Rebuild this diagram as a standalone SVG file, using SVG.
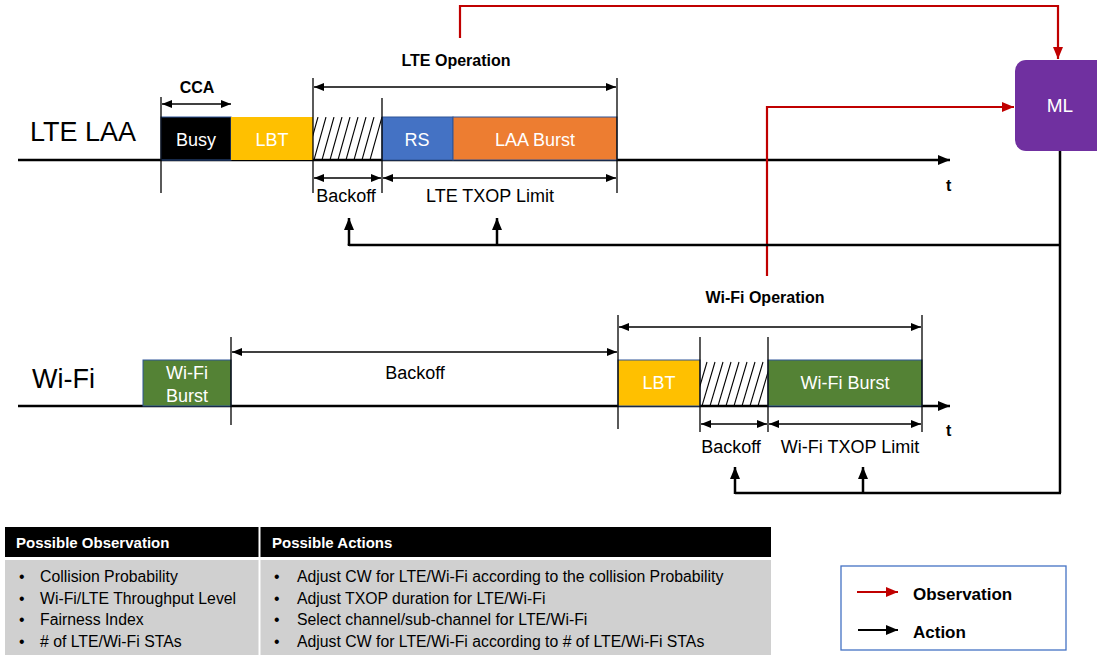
<svg xmlns="http://www.w3.org/2000/svg" width="1097" height="655" viewBox="0 0 1097 655">
  <style>
    text { font-family: "Liberation Sans", "Open Sans", sans-serif; fill: #000; }
    .big { font-size: 27px; }
    .lbl { font-size: 18px; }
    .hdr { font-size: 16px; font-weight: bold; }
    .box { font-size: 18px; fill: #fff; text-anchor: middle; }
    .mid { text-anchor: middle; }
    .axis { stroke: #000; stroke-width: 2.5; fill: none; }
    .tick { stroke: #000; stroke-width: 1.3; fill: none; }
    .dim { stroke: #000; stroke-width: 1.3; fill: none; marker-start: url(#ahs); marker-end: url(#ahe); }
    .hatch line { stroke: #000; stroke-width: 1.1; }
    .obs { stroke: #c00000; stroke-width: 2.2; fill: none; marker-end: url(#red); }
    .act { stroke: #000; stroke-width: 2.5; fill: none; }
    .up { stroke: #000; stroke-width: 2.5; fill: none; marker-end: url(#blk); }
    .cell { font-size: 15.8px; }
    .th { font-size: 15px; font-weight: bold; fill: #fff; }
  </style>
  <defs>
    <marker id="ahe" markerWidth="10" markerHeight="8" refX="10" refY="4" orient="auto" markerUnits="userSpaceOnUse">
      <path d="M0,0 L10,4 L0,8 Z" fill="#000"/>
    </marker>
    <marker id="ahs" markerWidth="10" markerHeight="8" refX="0" refY="4" orient="auto" markerUnits="userSpaceOnUse">
      <path d="M10,0 L0,4 L10,8 Z" fill="#000"/>
    </marker>
    <marker id="red" markerWidth="12" markerHeight="10" refX="12" refY="5" orient="auto" markerUnits="userSpaceOnUse">
      <path d="M0,0 L12,5 L0,10 Z" fill="#c00000"/>
    </marker>
    <marker id="blk" markerWidth="12" markerHeight="10" refX="12" refY="5" orient="auto" markerUnits="userSpaceOnUse">
      <path d="M0,0 L12,5 L0,10 Z" fill="#000"/>
    </marker>
    <marker id="tax" markerWidth="12" markerHeight="10" refX="12" refY="5" orient="auto" markerUnits="userSpaceOnUse">
      <path d="M0,0 L12,5 L0,10 Z" fill="#000"/>
    </marker>
    <clipPath id="hcl1"><rect x="313" y="117" width="69" height="43"/></clipPath>
    <clipPath id="hcl2"><rect x="700" y="360" width="68" height="46"/></clipPath>
  </defs>

  <!-- LTE LAA timeline -->
  <g id="lte-row">
    <text class="big" x="30" y="141">LTE LAA</text>
    <line class="axis" x1="18" y1="160" x2="950" y2="160" marker-end="url(#tax)"/>
    <text x="946" y="191" style="font-size:16px;font-weight:bold">t</text>
  </g>
  <g id="lte-busy">
    <rect x="161" y="117" width="70" height="43" fill="#000" stroke="#2f5597" stroke-width="1"/>
    <text class="box" x="196" y="146">Busy</text>
  </g>
  <g id="lte-lbt">
    <rect x="231" y="117" width="82" height="43" fill="#ffc000"/>
    <text class="box" x="272" y="146">LBT</text>
  </g>
  <g id="lte-backoff" class="hatch" clip-path="url(#hcl1)">
    <line x1="306" y1="160" x2="318" y2="117"/>
    <line x1="314" y1="160" x2="326" y2="117"/>
    <line x1="322" y1="160" x2="334" y2="117"/>
    <line x1="330" y1="160" x2="342" y2="117"/>
    <line x1="338" y1="160" x2="350" y2="117"/>
    <line x1="346" y1="160" x2="358" y2="117"/>
    <line x1="354" y1="160" x2="366" y2="117"/>
    <line x1="362" y1="160" x2="374" y2="117"/>
    <line x1="370" y1="160" x2="382" y2="117"/>
  </g>
  <g id="lte-rs">
    <rect x="382" y="117" width="71" height="43" fill="#4472c4" stroke="#2f5597" stroke-width="1"/>
    <text class="box" x="417" y="146">RS</text>
  </g>
  <g id="lte-burst">
    <rect x="453" y="117" width="164" height="43" fill="#ed7d31" stroke="#2f5597" stroke-width="1"/>
    <text class="box" x="535" y="146">LAA Burst</text>
  </g>
  <g id="lte-dims">
    <line class="tick" x1="161" y1="97" x2="161" y2="193"/>
    <line class="tick" x1="313" y1="78" x2="313" y2="193"/>
    <line class="tick" x1="382" y1="98" x2="382" y2="193"/>
    <line class="tick" x1="617" y1="78" x2="617" y2="193"/>
    <line class="dim" x1="162" y1="104" x2="231" y2="104"/>
    <text class="hdr mid" x="197" y="93">CCA</text>
    <line class="dim" x1="314" y1="87" x2="616" y2="87"/>
    <text class="hdr mid" x="456" y="66">LTE Operation</text>
    <line class="dim" x1="314" y1="178" x2="381" y2="178"/>
    <text class="lbl mid" x="346" y="202">Backoff</text>
    <line class="dim" x1="383" y1="178" x2="616" y2="178"/>
    <text class="lbl mid" x="490" y="202">LTE TXOP Limit</text>
  </g>

  <!-- Wi-Fi timeline -->
  <g id="wifi-row">
    <text class="big" x="32" y="388">Wi-Fi</text>
    <line class="axis" x1="18" y1="406" x2="950" y2="406" marker-end="url(#tax)"/>
    <text x="946" y="436" style="font-size:16px;font-weight:bold">t</text>
  </g>
  <g id="wifi-burst1">
    <rect x="143" y="360" width="88" height="46" fill="#548235" stroke="#2f5597" stroke-width="1"/>
    <text class="box" x="187" y="379">Wi-Fi</text>
    <text class="box" x="187" y="402">Burst</text>
  </g>
  <g id="wifi-lbt">
    <rect x="618" y="360" width="82" height="46" fill="#ffc000" stroke="#2f5597" stroke-width="1"/>
    <text class="box" x="659" y="389">LBT</text>
  </g>
  <g id="wifi-backoff" class="hatch" clip-path="url(#hcl2)">
    <line x1="694" y1="406" x2="707" y2="362"/>
    <line x1="702" y1="406" x2="715" y2="362"/>
    <line x1="710" y1="406" x2="723" y2="362"/>
    <line x1="718" y1="406" x2="731" y2="362"/>
    <line x1="726" y1="406" x2="739" y2="362"/>
    <line x1="734" y1="406" x2="747" y2="362"/>
    <line x1="742" y1="406" x2="755" y2="362"/>
    <line x1="750" y1="406" x2="763" y2="362"/>
    <line x1="758" y1="406" x2="771" y2="362"/>
  </g>
  <g id="wifi-burst2">
    <rect x="768" y="360" width="154" height="46" fill="#548235" stroke="#2f5597" stroke-width="1"/>
    <text class="box" x="845" y="389">Wi-Fi Burst</text>
  </g>
  <g id="wifi-dims">
    <line class="tick" x1="231" y1="337" x2="231" y2="425"/>
    <line class="dim" x1="232" y1="352" x2="617" y2="352"/>
    <text class="lbl mid" x="415" y="379">Backoff</text>
    <line class="tick" x1="618" y1="315" x2="618" y2="429"/>
    <line class="tick" x1="700" y1="337" x2="700" y2="432"/>
    <line class="tick" x1="768" y1="337" x2="768" y2="432"/>
    <line class="tick" x1="922" y1="315" x2="922" y2="432"/>
    <line class="dim" x1="619" y1="327" x2="921" y2="327"/>
    <text class="hdr mid" x="765" y="303">Wi-Fi Operation</text>
    <line class="dim" x1="701" y1="424" x2="767" y2="424"/>
    <text class="lbl mid" x="731" y="453">Backoff</text>
    <line class="dim" x1="769" y1="424" x2="921" y2="424"/>
    <text class="lbl mid" x="850" y="453">Wi-Fi TXOP Limit</text>
  </g>

  <!-- ML agent -->
  <g id="ml">
    <rect x="1015" y="60" width="92" height="91" rx="11" fill="#7030a0"/>
    <text x="1060" y="112" style="font-size:19px;fill:#fff;text-anchor:middle">ML</text>
  </g>

  <!-- observation and action connectors -->
  <g id="connectors">
    <path class="obs" d="M460,38 V6 H1058 V59"/>
    <path class="obs" d="M767,276 V107 H1014"/>
    <path class="act" d="M1060,151 V493"/>
    <path class="act" d="M1061,245 H349 V246"/>
    <line class="up" x1="349" y1="245" x2="349" y2="218"/>
    <line class="up" x1="497" y1="245" x2="497" y2="218"/>
    <path class="act" d="M1061,493 H735"/>
    <line class="up" x1="735" y1="494" x2="735" y2="467"/>
    <line class="up" x1="863" y1="494" x2="863" y2="467"/>
  </g>

  <!-- observation / action table -->
  <g id="table">
    <rect x="5" y="527" width="766" height="30" fill="#000"/>
    <rect x="5" y="560" width="766" height="95" fill="#d0d0d0"/>
    <line x1="259.5" y1="527" x2="259.5" y2="655" stroke="#fff" stroke-width="2"/>
    <text class="th" x="16" y="548">Possible Observation</text>
    <text class="th" x="272" y="548">Possible Actions</text>
    <g class="cell">
      <text x="19" y="582">•</text><text x="40" y="582">Collision Probability</text>
      <text x="19" y="604">•</text><text x="40" y="604">Wi-Fi/LTE Throughput Level</text>
      <text x="19" y="625">•</text><text x="40" y="625">Fairness Index</text>
      <text x="19" y="647">•</text><text x="40" y="647"># of LTE/Wi-Fi STAs</text>
      <text x="274" y="582">•</text><text x="297" y="582">Adjust CW for LTE/Wi-Fi according to the collision Probability</text>
      <text x="274" y="604">•</text><text x="297" y="604">Adjust TXOP duration for LTE/Wi-Fi</text>
      <text x="274" y="625">•</text><text x="297" y="625">Select channel/sub-channel for LTE/Wi-Fi</text>
      <text x="274" y="647">•</text><text x="297" y="647">Adjust CW for LTE/Wi-Fi according to # of LTE/Wi-Fi STAs</text>
    </g>
  </g>

  <!-- legend -->
  <g id="legend">
    <rect x="841" y="566" width="225" height="84" fill="#fff" stroke="#4472c4" stroke-width="1.3"/>
    <line x1="857" y1="592" x2="898" y2="592" stroke="#c00000" stroke-width="2" marker-end="url(#red)"/>
    <text x="913" y="600" style="font-size:17px;font-weight:bold">Observation</text>
    <line x1="858" y1="630" x2="898" y2="630" stroke="#000" stroke-width="2" marker-end="url(#blk)"/>
    <text x="913" y="638" style="font-size:17px;font-weight:bold">Action</text>
  </g>
</svg>
